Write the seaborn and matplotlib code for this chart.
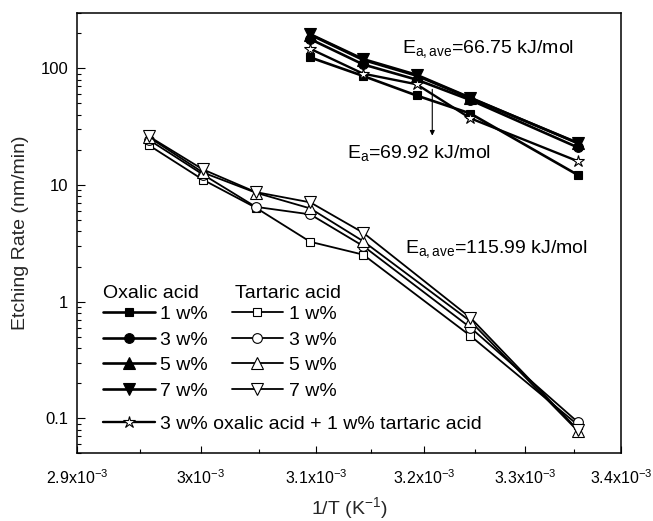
import numpy as np
import matplotlib
matplotlib.use("Agg")
import matplotlib.pyplot as plt
import seaborn as sns
from matplotlib.ticker import FixedLocator, FixedFormatter, NullFormatter, LogLocator

# ---------------- data ----------------
x_high = [3.095e-3, 3.143e-3, 3.193e-3, 3.245e-3, 3.354e-3]
x_low = [2.957e-3, 3.002e-3, 3.047e-3, 3.095e-3, 3.143e-3, 3.245e-3, 3.354e-3]

oxalic_1 = [124, 86, 58.5, 41, 12.2]
oxalic_3 = [178, 108, 80, 53.5, 21]
oxalic_5 = [194, 118, 86.5, 55.5, 23]
oxalic_7 = [196, 120, 88, 56, 22.8]
mixture = [147, 90, 73, 37.3, 16]

tartaric_1 = [22, 11.1, 6.4, 3.26, 2.53, 0.51, 0.088]
tartaric_3 = [24.5, 12.3, 6.5, 5.6, 3.0, 0.6, 0.093]
tartaric_5 = [25.8, 12.8, 8.6, 6.3, 3.3, 0.68, 0.078]
tartaric_7 = [26.2, 13.6, 8.7, 7.1, 3.9, 0.73, 0.080]

conc_labels = ["1 w%", "3 w%", "5 w%", "7 w%"]
mix_label = "3 w% oxalic acid + 1 w% tartaric acid"

xticks = [2.9e-3, 3.0e-3, 3.1e-3, 3.2e-3, 3.3e-3, 3.4e-3]
xtick_labels = ["2.9x10$^{-3}$", "3x10$^{-3}$", "3.1x10$^{-3}$",
                "3.2x10$^{-3}$", "3.3x10$^{-3}$", "3.4x10$^{-3}$"]
xminor = [2.95e-3, 3.05e-3, 3.15e-3, 3.25e-3, 3.35e-3]
yticks = [0.1, 1, 10, 100]
ytick_labels = ["0.1", "1", "10", "100"]

# ---------------- style ----------------
sns.set_theme(style="white")
plt.rcParams.update({
    "font.family": ["Liberation Sans", "DejaVu Sans"],
    "mathtext.fontset": "custom",
    "mathtext.rm": "Liberation Sans",
    "mathtext.it": "Liberation Sans:italic",
    "mathtext.bf": "Liberation Sans:bold",
    "mathtext.default": "regular",
    "axes.edgecolor": "black",
    "axes.linewidth": 1.1,
    "text.color": "black",
    "xtick.color": "black",
    "ytick.color": "black",
})

fig = plt.figure(figsize=(6.53, 5.21), dpi=100)
ax = fig.add_axes([0.1184, 0.1296, 0.8326, 0.8461])

def draw(x, y, marker, face, ms, lw):
    sns.lineplot(x=x, y=y, ax=ax, color="black", marker=marker, markersize=ms,
                 markerfacecolor=face, markeredgecolor="black",
                 markeredgewidth=0.8, linewidth=lw, legend=False, sort=True)
    return ax.lines[-1]

open_lw = 1.3
fill_lw = 1.9
h_t1 = draw(x_low, tartaric_1, "s", "white", 6.0, open_lw)
h_t3 = draw(x_low, tartaric_3, "o", "white", 7.0, open_lw)
h_t5 = draw(x_low, tartaric_5, "^", "white", 8.2, open_lw)
h_t7 = draw(x_low, tartaric_7, "v", "white", 8.2, open_lw)
h_o1 = draw(x_high, oxalic_1, "s", "black", 6.0, fill_lw)
h_o3 = draw(x_high, oxalic_3, "o", "black", 7.0, fill_lw)
h_o5 = draw(x_high, oxalic_5, "^", "black", 8.2, fill_lw)
h_o7 = draw(x_high, oxalic_7, "v", "black", 8.2, fill_lw)
h_mx = draw(x_high, mixture, "*", "white", 9.0, 1.7)

# ---------------- scales ----------------
def fwd(v):
    v = np.asarray(v, dtype=float)
    with np.errstate(divide="ignore", invalid="ignore"):
        return -1.0 / v

ax.set_xscale("function", functions=(fwd, fwd))
ax.set_yscale("log")
ax.set_xlim(2.9e-3, 3.4e-3)
ax.set_ylim(0.05, 300)

ax.xaxis.set_major_locator(FixedLocator(xticks))
ax.xaxis.set_major_formatter(FixedFormatter(xtick_labels))
ax.xaxis.set_minor_locator(FixedLocator(xminor))
ax.xaxis.set_minor_formatter(NullFormatter())
ax.yaxis.set_major_locator(FixedLocator(yticks))
ax.yaxis.set_major_formatter(FixedFormatter(ytick_labels))
ax.yaxis.set_minor_locator(LogLocator(base=10, subs=np.arange(2, 10)))
ax.yaxis.set_minor_formatter(NullFormatter())

ax.tick_params(which="both", direction="in", top=False, right=False,
               bottom=True, left=True)
ax.tick_params(which="major", length=5.4, width=0.8)
ax.tick_params(which="minor", length=3.0, width=0.8)
ax.tick_params(axis="x", which="major", pad=10.5, labelsize=11.5)
ax.tick_params(axis="y", which="major", pad=6.5, labelsize=12)
for s in ax.spines.values():
    s.set_visible(True)
    s.set_linewidth(1.1)
    s.set_color("black")

ax.set_xlabel("1/T (K$^{-1}$)", fontsize=14, labelpad=6)
ax.set_ylabel("Etching Rate (nm/min)", fontsize=14, labelpad=8)

# ---------------- annotations ----------------
ax.text(3.179e-3, 136, "E$_{a,ave}$=66.75 kJ/mol", fontsize=14,
        ha="left", va="baseline")
ax.text(3.128e-3, 16.9, "E$_{a}$=69.92 kJ/mol", fontsize=14,
        ha="left", va="baseline")
ax.text(3.182e-3, 2.61, "E$_{a,ave}$=115.99 kJ/mol", fontsize=14,
        ha="left", va="baseline")
ax.annotate("", xy=(3.208e-3, 26.5), xytext=(3.208e-3, 66),
            arrowprops=dict(arrowstyle="-|>", lw=0.8, color="black",
                            mutation_scale=7, shrinkA=0, shrinkB=0))

# ---------------- legend ----------------
ax.text(0.0478, 0.352, "Oxalic acid", transform=ax.transAxes, fontsize=14,
        ha="left", va="baseline")
ax.text(0.290, 0.352, "Tartaric acid", transform=ax.transAxes, fontsize=14,
        ha="left", va="baseline")

leg1 = ax.legend([h_o1, h_o3, h_o5, h_o7, h_t1, h_t3, h_t5, h_t7],
                 conc_labels + conc_labels, ncol=2, loc="center left",
                 bbox_to_anchor=(0.0467, 0.2291), frameon=False, fontsize=14,
                 borderpad=0, borderaxespad=0, handlelength=2.67,
                 handletextpad=0.26, columnspacing=1.24, labelspacing=0.41,
                 numpoints=1)
ax.add_artist(leg1)
leg2 = ax.legend([h_mx], [mix_label], loc="center left",
                 bbox_to_anchor=(0.0467, 0.0669), frameon=False, fontsize=14,
                 borderpad=0, borderaxespad=0, handlelength=2.67,
                 handletextpad=0.26, numpoints=1)

fig.savefig("out.png", dpi=100)
